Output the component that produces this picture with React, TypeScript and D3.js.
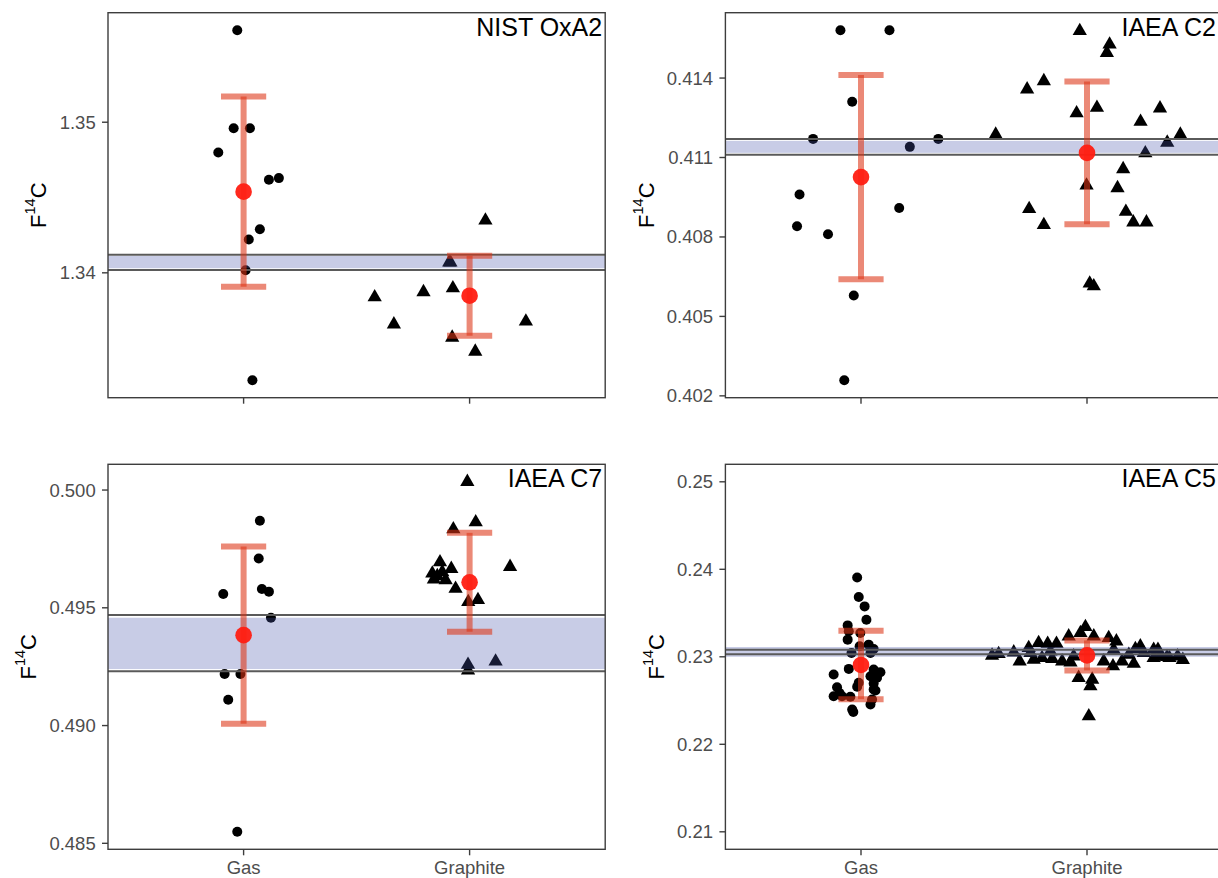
import React, { useEffect, useRef } from "react";
import * as d3 from "d3";

const categories = ["Gas", "Graphite"];

// NIST OxA2
const oxa2GasX = [0.972, 0.956, 1.028, 0.888, 1.112, 1.156, 1.072, 1.023, 1.009, 1.039];
const oxa2GasY = [1.35611, 1.3496, 1.3496, 1.34799, 1.34618, 1.34629, 1.34289, 1.34221, 1.34017, 1.33287];
const oxa2GraphiteX = [2.07, 1.91, 1.915, 1.58, 1.796, 1.926, 1.665, 1.923, 2.025, 2.249];
const oxa2GraphiteY = [1.34348, 1.3407, 1.3407, 1.33838, 1.33872, 1.33898, 1.33658, 1.3357, 1.33477, 1.33677];
const oxa2Band = [1.340306, 1.341118];
const oxa2Lines = [1.34018, 1.341198];
const oxa2Ticks = [1.34, 1.35];

// IAEA C2
const c2GasX = [0.909, 1.126, 0.961, 0.788, 1.216, 1.342, 0.728, 1.169, 0.717, 0.854, 0.968, 0.926];
const c2GasY = [0.415807, 0.415807, 0.413108, 0.411703, 0.411402, 0.411703, 0.409606, 0.409094, 0.408401, 0.4081, 0.405792, 0.402591];
const c2GraphiteX = [1.968, 2.1, 2.088, 1.735, 1.809, 1.954, 2.044, 2.323, 2.237, 1.596, 2.413, 2.355, 2.258, 2.16, 1.998, 2.135, 1.744, 1.809, 2.172, 2.205, 2.263, 2.012, 2.03];
const c2GraphiteY = [0.415781, 0.415269, 0.414953, 0.413575, 0.413887, 0.412671, 0.412882, 0.412859, 0.412355, 0.411865, 0.411865, 0.411564, 0.411165, 0.410562, 0.409945, 0.409847, 0.409056, 0.408454, 0.408955, 0.408552, 0.408552, 0.406244, 0.406142];
const c2Band = [0.411176, 0.411628];
const c2Lines = [0.411101, 0.411703];
const c2Ticks = [0.402, 0.405, 0.408, 0.411, 0.414];

// IAEA C7
const c7GasX = [1.072, 0.91, 1.067, 1.081, 1.112, 1.121, 0.916, 0.986, 0.932, 0.972];
const c7GasY = [0.498694, 0.495589, 0.497093, 0.495799, 0.495686, 0.494577, 0.492188, 0.492188, 0.491093, 0.485489];
const c7GraphiteX = [1.99, 2.027, 1.928, 1.869, 1.919, 1.835, 1.879, 1.842, 1.894, 1.938, 2.179, 1.994, 2.037, 1.993, 1.993, 2.115, 1.857];
const c7GraphiteY = [0.50035, 0.498635, 0.49834, 0.496937, 0.496655, 0.496461, 0.496516, 0.496208, 0.496178, 0.495812, 0.496739, 0.495252, 0.495336, 0.492584, 0.492344, 0.492723, 0.496347];
const c7Band = [0.492399, 0.494578];
const c7Lines = [0.492302, 0.494691];
const c7Ticks = [0.485, 0.49, 0.495, 0.5];

// IAEA C5
const c5GasX = [0.983, 0.99, 1.016, 1.024, 0.941, 0.997, 0.946, 0.941, 1.034, 1.056, 0.958, 1.042, 0.994, 0.946, 1.056, 1.086,
  0.879, 1.042, 1.071, 0.99, 1.056, 0.894, 0.983, 1.056, 0.879, 0.916, 1.049, 1.042, 0.961, 0.953, 0.966, 1.064, 0.905];
const c5GasY = [0.23906, 0.23683, 0.23576, 0.23424, 0.23359, 0.23272, 0.23291, 0.23196, 0.23139, 0.2309, 0.23044, 0.23044, 0.2312,
  0.22862, 0.22854, 0.22823, 0.22797, 0.22778, 0.2276, 0.22703, 0.22695, 0.22652, 0.22657, 0.22626, 0.2255, 0.2255, 0.22512,
  0.22455, 0.22398, 0.22543, 0.2237, 0.22615, 0.22585];
const c5GraphiteX = [1.58, 1.609, 1.676, 1.702, 1.742, 1.786, 1.826, 1.865, 1.764, 1.801, 1.846, 1.89, 1.919, 1.971, 1.993, 1.927,
  1.963, 2.023, 2.015, 2.008, 1.941, 1.75, 1.838, 2.03, 2.096, 2.13, 2.118, 2.074, 2.115, 2.155, 2.185, 2.207, 2.214, 2.236,
  2.251, 2.295, 2.295, 2.325, 2.354, 2.401, 2.314, 2.365, 2.424];
const c5GraphiteY = [0.23014, 0.23033, 0.23051, 0.22949, 0.23101, 0.23158, 0.2315, 0.2315, 0.22968, 0.22987, 0.22976, 0.22949,
  0.23234, 0.23272, 0.23341, 0.22937, 0.2276, 0.2274, 0.22664, 0.22322, 0.23006, 0.23044, 0.23063, 0.23234, 0.23215, 0.23177,
  0.23082, 0.22949, 0.22892, 0.22949, 0.23025, 0.22922, 0.2309, 0.2312, 0.23044, 0.23082, 0.22987, 0.23006, 0.22999, 0.23006,
  0.23082, 0.22987, 0.22966];
const c5Band = [0.23, 0.23112];
const c5Lines = [0.23028, 0.23082];
const c5Ticks = [0.21, 0.22, 0.23, 0.24, 0.25];
const c5Limits = [0.21, 0.25];

const panels = [
  { name: "NIST OxA2", gasX: oxa2GasX, gasY: oxa2GasY, grX: oxa2GraphiteX, grY: oxa2GraphiteY, band: oxa2Band, lines: oxa2Lines, ticks: oxa2Ticks, fmt: ".2f", col: 0, row: 0 },
  { name: "IAEA C2", gasX: c2GasX, gasY: c2GasY, grX: c2GraphiteX, grY: c2GraphiteY, band: c2Band, lines: c2Lines, ticks: c2Ticks, fmt: ".3f", col: 1, row: 0 },
  { name: "IAEA C7", gasX: c7GasX, gasY: c7GasY, grX: c7GraphiteX, grY: c7GraphiteY, band: c7Band, lines: c7Lines, ticks: c7Ticks, fmt: ".3f", col: 0, row: 1 },
  { name: "IAEA C5", gasX: c5GasX, gasY: c5GasY, grX: c5GraphiteX, grY: c5GraphiteY, band: c5Band, lines: c5Lines, ticks: c5Ticks, fmt: ".2f", col: 1, row: 1, limits: c5Limits },
];

const W = 1218, H = 878;
const lefts = [108, 725.4];
const tops = [12.7, 464.3];
const pw = 497.2, ph = 385;
const font = "'Liberation Sans', Arial, Helvetica, sans-serif";

export default function App() {
  const ref = useRef<SVGSVGElement>(null);

  useEffect(() => {
    document.body.style.margin = "0";
    const svg = d3.select(ref.current);
    svg.selectAll("*").remove();

    panels.forEach((p, i) => {
      const left = lefts[p.col], top = tops[p.row];
      const right = left + pw, bottom = top + ph;

      const gasMean = d3.mean(p.gasY)!, gasSd = d3.deviation(p.gasY)!;
      const grMean = d3.mean(p.grY)!, grSd = d3.deviation(p.grY)!;
      const summary = [
        { x: 1, mean: gasMean, lo: gasMean - gasSd, hi: gasMean + gasSd },
        { x: 2, mean: grMean, lo: grMean - grSd, hi: grMean + grSd },
      ];

      let lo: number, hi: number;
      if (p.limits) {
        [lo, hi] = p.limits;
      } else {
        const all = [...p.gasY, ...p.grY, ...p.band, ...p.lines, ...summary.flatMap((s) => [s.lo, s.hi])];
        [lo, hi] = d3.extent(all) as [number, number];
      }
      const pad = (hi - lo) * 0.05;

      const x = d3.scaleLinear().domain([0.4, 2.6]).range([left, right]);
      const y = d3.scaleLinear().domain([lo - pad, hi + pad]).range([bottom, top]);

      const clipId = `clip-${i}`;
      svg.append("clipPath").attr("id", clipId)
        .append("rect").attr("x", left).attr("y", top).attr("width", pw).attr("height", ph);

      const g = svg.append("g").attr("clip-path", `url(#${clipId})`);

      // raw points
      g.selectAll(".gas").data(p.gasY).enter().append("circle")
        .attr("cx", (d, j) => x(p.gasX[j]))
        .attr("cy", (d) => y(d))
        .attr("r", 5)
        .attr("fill", "#000");

      const tri = d3.symbol().type(d3.symbolTriangle).size(88);
      g.selectAll(".gr").data(p.grY).enter().append("path")
        .attr("d", tri as any)
        .attr("transform", (d, j) => `translate(${x(p.grX[j])},${y(d)})`)
        .attr("fill", "#000");

      // reference band + lines
      g.append("rect")
        .attr("x", left).attr("width", pw)
        .attr("y", y(p.band[1]))
        .attr("height", y(p.band[0]) - y(p.band[1]))
        .attr("fill", "#4855AC")
        .attr("fill-opacity", 0.3);

      g.selectAll(".ref").data(p.lines).enter().append("line")
        .attr("x1", left).attr("x2", right)
        .attr("y1", (d) => y(d)).attr("y2", (d) => y(d))
        .attr("stroke", "#5a5a5a")
        .attr("stroke-width", 2);

      // mean +/- sd
      const capW = 0.1;
      summary.forEach((s) => {
        const segs = [
          [s.x, s.lo, s.x, s.hi],
          [s.x - capW, s.hi, s.x + capW, s.hi],
          [s.x - capW, s.lo, s.x + capW, s.lo],
        ];
        segs.forEach((sg) => {
          g.append("line")
            .attr("x1", x(sg[0])).attr("y1", y(sg[1]))
            .attr("x2", x(sg[2])).attr("y2", y(sg[3]))
            .attr("stroke", "#DC3414")
            .attr("stroke-opacity", 0.58)
            .attr("stroke-width", 6);
        });
        g.append("circle")
          .attr("cx", x(s.x)).attr("cy", y(s.mean))
          .attr("r", 8.3)
          .attr("fill", "#FF1E12")
          .attr("fill-opacity", 0.95);
      });

      // panel border
      svg.append("rect")
        .attr("x", left).attr("y", top).attr("width", pw).attr("height", ph)
        .attr("fill", "none").attr("stroke", "#3d3d3d").attr("stroke-width", 1.4);

      // label (kept inside the visible area)
      svg.append("text")
        .attr("x", Math.min(right - 3, W - 2)).attr("y", top + 23)
        .attr("text-anchor", "end")
        .attr("font-family", font).attr("font-size", 25)
        .attr("fill", "#000")
        .text(p.name);

      // y axis
      const fmt = d3.format(p.fmt);
      const yAxis = svg.append("g");
      let minLabelX = left;
      p.ticks.forEach((t) => {
        yAxis.append("line")
          .attr("x1", left - 6).attr("x2", left)
          .attr("y1", y(t)).attr("y2", y(t))
          .attr("stroke", "#3d3d3d").attr("stroke-width", 1.4);
        const tx = yAxis.append("text")
          .attr("x", left - 12.3).attr("y", y(t))
          .attr("dy", "0.35em")
          .attr("text-anchor", "end")
          .attr("font-family", font).attr("font-size", 18.5)
          .attr("fill", "#4d4d4d")
          .text(fmt(t));
        const w = (tx.node() as SVGTextElement).getComputedTextLength();
        minLabelX = Math.min(minLabelX, left - 12.3 - w);
      });

      // x axis
      categories.forEach((c, k) => {
        svg.append("line")
          .attr("x1", x(k + 1)).attr("x2", x(k + 1))
          .attr("y1", bottom).attr("y2", bottom + 6)
          .attr("stroke", "#3d3d3d").attr("stroke-width", 1.4);
        if (p.row === 1) {
          svg.append("text")
            .attr("x", x(k + 1)).attr("y", bottom + 24.5)
            .attr("text-anchor", "middle")
            .attr("font-family", font).attr("font-size", 18.5)
            .attr("fill", "#4d4d4d")
            .text(c);
        }
      });

      // y title F14C
      const tx = minLabelX - 21, ty = (top + bottom) / 2;
      const title = svg.append("text")
        .attr("transform", `translate(${tx},${ty}) rotate(-90)`)
        .attr("text-anchor", "middle")
        .attr("dy", "0.35em")
        .attr("font-family", font).attr("font-size", 22)
        .attr("fill", "#000");
      title.append("tspan").text("F");
      title.append("tspan").attr("font-size", 14.5).attr("dy", -11).text("14");
      title.append("tspan").attr("dy", 11).text("C");
    });
  }, []);

  return (
    <svg ref={ref} width={W} height={H} style={{ display: "block", background: "#fff" }} />
  );
}
